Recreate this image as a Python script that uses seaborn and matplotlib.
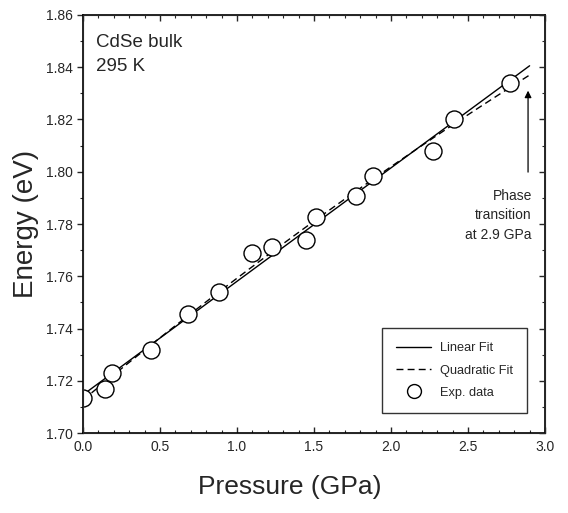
import numpy as np
import pandas as pd
import matplotlib
matplotlib.use("Agg")
import matplotlib.pyplot as plt
import seaborn as sns
from matplotlib.ticker import MultipleLocator, FormatStrFormatter
from matplotlib.lines import Line2D

# ---- data ----
pressure = [0.00, 0.14, 0.19, 0.44, 0.68, 0.88, 1.10, 1.23, 1.45, 1.51,
            1.77, 1.88, 2.27, 2.41, 2.77]
energy = [1.7134, 1.7168, 1.7230, 1.7318, 1.7456, 1.7540, 1.7690, 1.7712,
          1.7740, 1.7825, 1.7907, 1.7984, 1.8080, 1.8200, 1.8340]
fit_range = [0.0, 2.9]
legend_labels = ["Linear Fit", "Quadratic Fit", "Exp. data"]

sns.set_style("ticks")
plt.rcParams['font.family'] = ['Liberation Sans Narrow', 'Liberation Sans', 'DejaVu Sans']

df = pd.DataFrame({"P": pressure, "E": energy})
lin = np.polyfit(pressure, energy, 1)
quad = np.polyfit(pressure, energy, 2)
xs = np.linspace(fit_range[0], fit_range[1], 100)
fits = pd.DataFrame({"P": xs, "lin": np.polyval(lin, xs), "quad": np.polyval(quad, xs)})

fig = plt.figure(figsize=(5.68, 5.13), dpi=100)
ax = fig.add_axes([0.1461, 0.1559, 0.8134, 0.8149])

sns.lineplot(data=fits, x="P", y="lin", ax=ax, color="black", lw=1.0)
sns.lineplot(data=fits, x="P", y="quad", ax=ax, color="black", lw=1.0,
             linestyle=(0, (5, 3)))
sns.scatterplot(data=df, x="P", y="E", ax=ax, marker="o", s=150,
                facecolor="white", edgecolor="black", linewidth=1.0, zorder=5)

ax.set_xlim(0, 3.0)
ax.set_ylim(1.70, 1.86)
ax.xaxis.set_major_locator(MultipleLocator(0.5))
ax.xaxis.set_minor_locator(MultipleLocator(0.1))
ax.yaxis.set_major_locator(MultipleLocator(0.02))
ax.yaxis.set_minor_locator(MultipleLocator(0.01))
ax.xaxis.set_major_formatter(FormatStrFormatter("%.1f"))
ax.yaxis.set_major_formatter(FormatStrFormatter("%.2f"))

ax.tick_params(axis="x", which="both", direction="in", top=True, labelsize=10, pad=5)
ax.tick_params(axis="y", which="both", direction="out", labelsize=10)
ax.tick_params(which="major", length=4, width=1)
ax.tick_params(which="minor", length=2.5, width=0.8)
for s in ax.spines.values():
    s.set_linewidth(1.2)
    s.set_color("black")

# right-hand inward ticks via twin axis
axr = ax.twinx()
axr.set_ylim(1.70, 1.86)
axr.yaxis.set_major_locator(MultipleLocator(0.02))
axr.yaxis.set_minor_locator(MultipleLocator(0.01))
axr.tick_params(axis="y", which="both", direction="in", labelright=False)
axr.tick_params(which="major", length=4, width=1)
axr.tick_params(which="minor", length=2.5, width=0.8)

ax.set_xlabel("Pressure (GPa)", fontsize=19)
ax.xaxis.set_label_coords(0.448, -0.1)
ax.set_ylabel("Energy (eV)", fontsize=20)
ax.yaxis.set_label_coords(-0.095, 0.5)

ax.text(0.028, 0.905, "CdSe bulk\n295 K", transform=ax.transAxes, fontsize=13.5,
        va="center", ha="left", linespacing=1.5)

ax.annotate("", xy=(2.89, 1.8321), xytext=(2.89, 1.7988),
            arrowprops=dict(arrowstyle="-|>", color="black", lw=0.9, mutation_scale=10))
ax.text(2.915, 1.7935, "Phase\ntransition\nat 2.9 GPa", fontsize=10, ha="right",
        va="top", linespacing=1.5)

handles = [Line2D([], [], color="black", lw=1.0),
           Line2D([], [], color="black", lw=1.0, linestyle=(0, (5, 3))),
           Line2D([], [], marker="o", color="black", markerfacecolor="white",
                  markersize=10, lw=0)]
leg = ax.legend(handles, legend_labels, loc="lower right", bbox_to_anchor=(0.961, 0.048),
                borderaxespad=0, fontsize=9.2, frameon=True, fancybox=False,
                edgecolor="black", handlelength=2.7, handletextpad=0.7,
                borderpad=1.1, labelspacing=0.8)
leg.get_frame().set_linewidth(1.0)

fig.savefig("out.png", dpi=100)
